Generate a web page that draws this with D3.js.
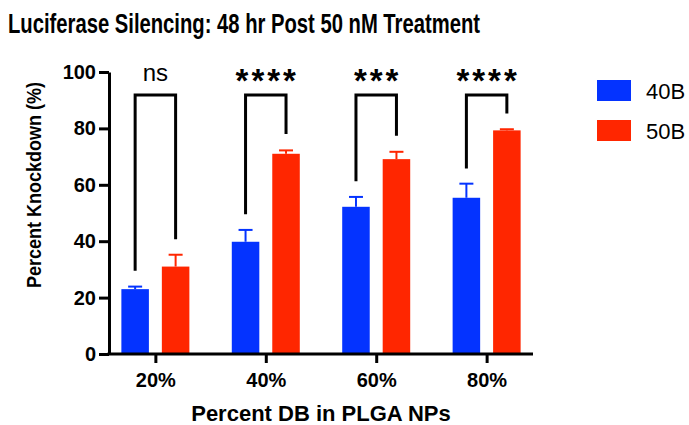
<!DOCTYPE html>
<html>
<head>
<meta charset="utf-8">
<script src="https://cdn.jsdelivr.net/npm/d3@7"></script>
<style>
  body { margin: 0; background: #fff; }
  text { font-family: "Liberation Sans", Arial, Helvetica, sans-serif; }
</style>
</head>
<body>
<div class="chart"></div>
<script>
var categories = ["20%", "40%", "60%", "80%"];
var seriesNames = ["40B", "50B"];
var means40 = [23.0, 39.8, 52.2, 55.4];
var means50 = [31.0, 71.0, 69.1, 79.3];
var err40 = [0.9, 4.2, 3.5, 5.0];
var err50 = [4.2, 1.2, 2.6, 0.4];
var sigLabels = ["ns", "****", "***", "****"];
// bracket leg ends: [left, right], and bracket top
var bracketLeft = [29.5, 49.6, 61.3, 65.8];
var bracketRight = [40.7, 78.0, 77.4, 85.3];
var bracketTop = 91.8;
var yTicks = [0, 20, 40, 60, 80, 100];

var width = 689, height = 425;
var colors = ["#0433ff", "#ff2600"];

var svg = d3.select(".chart").append("svg")
  .attr("width", width)
  .attr("height", height);

var x = d3.scalePoint()
  .domain(categories)
  .range([109, 533])
  .padding(0.42);

var sub = d3.scaleBand()
  .domain(seriesNames)
  .range([-34, 34])
  .paddingInner(0.32)
  .paddingOuter(0);

var y = d3.scaleLinear()
  .domain([0, 100])
  .range([354, 72]);

// title
svg.append("text")
  .attr("x", 8)
  .attr("y", 33)
  .attr("font-size", 27)
  .attr("font-weight", "bold")
  .attr("textLength", 472)
  .attr("lengthAdjust", "spacingAndGlyphs")
  .text("Luciferase Silencing: 48 hr Post 50 nM Treatment");

// bars
var series = [means40, means50];
var errs = [err40, err50];
seriesNames.forEach(function(name, s) {
  var g = svg.append("g");
  g.selectAll("rect")
    .data(categories)
    .enter()
    .append("rect")
    .attr("x", function(d) { return x(d) + sub(name); })
    .attr("y", function(d, i) { return y(series[s][i]); })
    .attr("width", sub.bandwidth())
    .attr("height", function(d, i) { return y(0) - y(series[s][i]); })
    .attr("fill", colors[s]);

  var cx = function(d) { return x(d) + sub(name) + sub.bandwidth() / 2; };
  g.selectAll("line.err")
    .data(categories)
    .enter()
    .append("line")
    .attr("class", "err")
    .attr("x1", cx).attr("x2", cx)
    .attr("y1", function(d, i) { return y(series[s][i]); })
    .attr("y2", function(d, i) { return y(series[s][i] + errs[s][i]); })
    .attr("stroke", colors[s])
    .attr("stroke-width", 2);
  g.selectAll("line.cap")
    .data(categories)
    .enter()
    .append("line")
    .attr("class", "cap")
    .attr("x1", function(d) { return cx(d) - 7; })
    .attr("x2", function(d) { return cx(d) + 7; })
    .attr("y1", function(d, i) { return y(series[s][i] + errs[s][i]); })
    .attr("y2", function(d, i) { return y(series[s][i] + errs[s][i]); })
    .attr("stroke", colors[s])
    .attr("stroke-width", 2);
});

// significance brackets
var bx = function(d, s) { return x(d) + sub(seriesNames[s]) + sub.bandwidth() / 2; };
svg.append("g").selectAll("path")
  .data(categories)
  .enter()
  .append("path")
  .attr("d", function(d, i) {
    return "M" + bx(d, 0) + "," + y(bracketLeft[i]) +
      "V" + y(bracketTop) + "H" + bx(d, 1) + "V" + y(bracketRight[i]);
  })
  .attr("fill", "none")
  .attr("stroke", "#000")
  .attr("stroke-width", 3);

svg.append("g").selectAll("text")
  .data(categories)
  .enter()
  .append("text")
  .attr("x", function(d, i) { return sigLabels[i] === "ns" ? x(d) : x(d) + 1.5; })
  .attr("y", function(d, i) { return sigLabels[i] === "ns" ? 81 : 92; })
  .attr("text-anchor", "middle")
  .attr("font-family", function(d, i) { return sigLabels[i] === "ns" ? null : "DejaVu Sans"; })
  .attr("font-size", function(d, i) { return sigLabels[i] === "ns" ? 24 : 33; })
  .attr("font-weight", function(d, i) { return sigLabels[i] === "ns" ? "normal" : "bold"; })
  .attr("letter-spacing", function(d, i) { return sigLabels[i] === "ns" ? 0 : 3; })
  .text(function(d, i) { return sigLabels[i]; });

// axes
var yAxis = svg.append("g")
  .attr("transform", "translate(109,0)")
  .call(d3.axisLeft(y).tickValues(yTicks).tickSize(10).tickPadding(3).tickSizeOuter(0));
var xAxis = svg.append("g")
  .attr("transform", "translate(0,354)")
  .call(d3.axisBottom(x).tickSize(9).tickPadding(10).tickSizeOuter(0));

[yAxis, xAxis].forEach(function(ax) {
  ax.select(".domain").attr("stroke", "#000").attr("stroke-width", 3);
  ax.selectAll(".tick line").attr("stroke", "#000").attr("stroke-width", 3);
  ax.selectAll(".tick text")
    .attr("fill", "#000")
    .attr("font-size", 20)
    .attr("font-weight", "bold")
    .attr("font-family", "Liberation Sans, Arial, sans-serif");
});
xAxis.select(".domain").attr("d", "M107.5,0H533");

// axis titles
svg.append("text")
  .attr("transform", "translate(41,185) rotate(-90)")
  .attr("text-anchor", "middle")
  .attr("font-size", 21)
  .attr("font-weight", "bold")
  .attr("textLength", 206)
  .attr("lengthAdjust", "spacingAndGlyphs")
  .text("Percent Knockdown (%)");

svg.append("text")
  .attr("x", 321)
  .attr("y", 421)
  .attr("text-anchor", "middle")
  .attr("font-size", 22)
  .attr("font-weight", "bold")
  .text("Percent DB in PLGA NPs");

// legend
var legend = svg.append("g").selectAll("g")
  .data(seriesNames)
  .enter()
  .append("g")
  .attr("transform", function(d, i) { return "translate(597," + (80 + i * 40) + ")"; });
legend.append("rect")
  .attr("width", 34)
  .attr("height", 21)
  .attr("fill", function(d, i) { return colors[i]; });
legend.append("text")
  .attr("x", 49)
  .attr("y", 19)
  .attr("font-size", 22)
  .text(function(d) { return d; });
</script>
</body>
</html>
